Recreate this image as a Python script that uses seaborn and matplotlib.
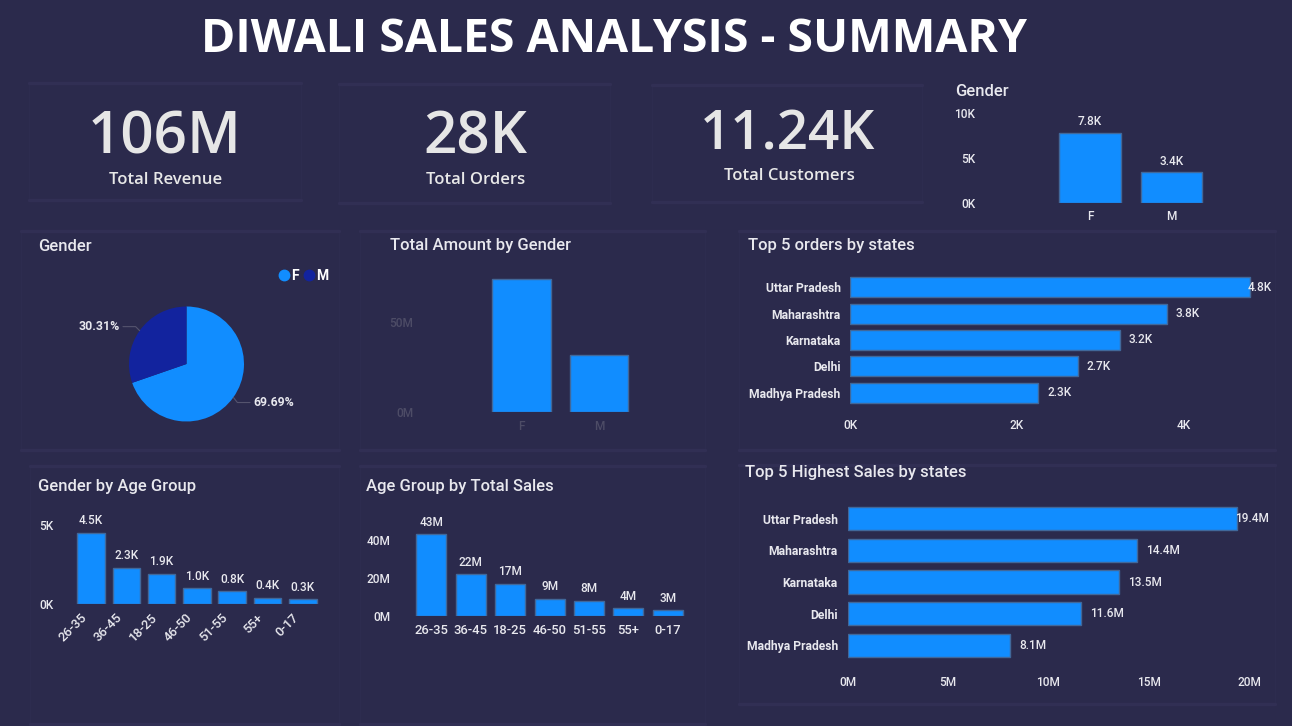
import matplotlib
matplotlib.use("Agg")
import matplotlib.pyplot as plt
from matplotlib.lines import Line2D
from matplotlib.patches import Rectangle
from matplotlib.transforms import ScaledTranslation
import numpy as np
import pandas as pd
import seaborn as sns

kpi_values = ["106M", "28K", "11.24K"]
kpi_labels = ["Total Revenue", "Total Orders", "Total Customers"]
genders = ["F", "M"]
gender_orders = [7.8, 3.4]
gender_share = [69.69, 30.31]
gender_amount = [74, 31.5]
age_groups = ["26-35", "36-45", "18-25", "46-50", "51-55", "55+", "0-17"]
age_orders = [4.5, 2.3, 1.9, 1.0, 0.8, 0.4, 0.3]
age_sales = [43, 22, 17, 9, 8, 4, 3]
states = ["Uttar Pradesh", "Maharashtra", "Karnataka", "Delhi", "Madhya Pradesh"]
state_orders = [4.8, 3.8, 3.24, 2.73, 2.26]
state_sales = [19.4, 14.4, 13.5, 11.6, 8.1]

W, H = 1292, 726
BG = "#2B2A4C"
PANEL = "#312F54"
BLUE = "#118DFF"
NAVY = "#12239E"
EDGE = "#41689A"
TXT = "#E8E8EE"
DIM = "#4D4C66"
FONT = "Roboto"
KFONT = "Open Sans"

sns.set_theme(style="white")
plt.rcParams["font.family"] = [FONT, "DejaVu Sans"]
fig = plt.figure(figsize=(W / 100, H / 100), dpi=100, facecolor=BG)


def fx(x):
    return x / W


def fy(y):
    return 1 - y / H


def ftext(x, y, s, size, color=TXT, ha="left", weight="medium", family=FONT, **kw):
    return fig.text(fx(x), fy(y), s, fontsize=size, color=color, ha=ha, va="center",
                    weight=weight, family=family, **kw)


def panel(l, t, r, b):
    fig.add_artist(Rectangle((fx(l), fy(b)), (r - l) / W, (b - t) / H, transform=fig.transFigure,
                             fc="none", ec="#2D2C4F", lw=1, zorder=0))
    for y in (t, b):
        fig.add_artist(Line2D([fx(l), fx(r)], [fy(y), fy(y)], color=PANEL, lw=2.4, zorder=0))


def axes_px(l, t, r, b):
    ax = fig.add_axes([fx(l), fy(b), (r - l) / W, (b - t) / H])
    ax.set_facecolor("none")
    sns.despine(ax=ax, left=True, bottom=True, top=True, right=True)
    ax.grid(False)
    ax.set_xlabel("")
    ax.set_ylabel("")
    return ax


def vbars(box, cats, vals, width, first, step, vmax, yticks, ylabels, size=8.6, tick_color=TXT,
          fmt=None, pad=5, ypad=3.5, xpad=5, xsize=None):
    l, t, r, b = box
    ax = axes_px(l, t, r, b)
    df = pd.DataFrame({"cat": cats, "val": vals})
    sns.barplot(data=df, x="cat", y="val", ax=ax, color=BLUE, saturation=1, width=width,
                edgecolor=EDGE, linewidth=1)
    ax.set_xlim((l - first) / step, (r - first) / step)
    ax.set_ylim(0, vmax)
    ax.set_yticks(yticks, ylabels)
    ax.set_xlabel("")
    ax.set_ylabel("")
    ax.tick_params(axis="both", length=0, labelcolor=tick_color, labelsize=size)
    ax.tick_params(axis="x", pad=xpad, labelsize=xsize or size)
    ax.tick_params(axis="y", pad=ypad)
    for lab in ax.get_xticklabels() + ax.get_yticklabels():
        lab.set_fontweight("medium")
    if fmt:
        ax.bar_label(ax.containers[0], labels=[fmt(v) for v in vals], padding=pad,
                     color=TXT, fontsize=size, fontweight="medium")
    return ax


def hbars(box, vals, width, vmax, xticks, xlabels, fmt, xpad, size=8.6):
    l, t, r, b = box
    ax = axes_px(l, t, r, b)
    df = pd.DataFrame({"state": states, "val": vals})
    sns.barplot(data=df, y="state", x="val", orient="h", ax=ax, color=BLUE, saturation=1,
                width=width, edgecolor=EDGE, linewidth=1)
    ax.set_xlim(0, vmax)
    ax.set_ylim(4.5, -0.5)
    ax.set_xticks(xticks, xlabels)
    ax.set_xlabel("")
    ax.set_ylabel("")
    ax.tick_params(axis="both", length=0, labelcolor=TXT, labelsize=size)
    ax.tick_params(axis="y", pad=7)
    ax.tick_params(axis="x", pad=xpad)
    for lab in ax.get_yticklabels():
        lab.set_fontweight("bold")
        lab.set_fontsize(8.7)
    for lab in ax.get_xticklabels():
        lab.set_fontweight("medium")
    texts = ax.bar_label(ax.containers[0], labels=[fmt(v) for v in vals], padding=6.5,
                         color=TXT, fontsize=size, fontweight="medium")
    texts[0].xyann = (-1.5, 0)
    return ax


# panels
for box in [(29, 83, 301, 200), (339, 84, 610, 203), (652, 85, 922, 202),
            (21, 231, 339, 450), (360, 231, 705, 450),
            (30, 466, 339, 724), (360, 466, 705, 724),
            (739, 231, 1275, 450), (739, 465, 1275, 704)]:
    panel(*box)

# title
ftext(614, 40, "DIWALI SALES ANALYSIS - SUMMARY", 33.4, color="white", ha="center",
      weight="bold", family=KFONT)

# KPI cards
kpi_x = [165, 475, 788]
kpi_y = [138, 138, 135]
lab_y = [180, 180, 176]
kpi_size = [42, 42, 39.5]
for x, vy, ly, v, lab, sz in zip(kpi_x, kpi_y, lab_y, kpi_values, kpi_labels, kpi_size):
    ftext(x, vy, v, sz, color="#E6E6E6", ha="center", weight="semibold", family=KFONT)
    ftext(x + 1, ly, lab, 12, color="#E8E8E8", ha="center", weight="semibold", family=KFONT)

# titles
ftext(955, 91.5, "Gender", 12)
ftext(38.5, 247, "Gender", 12)
ftext(390, 245.5, "Total Amount by Gender", 12)
ftext(38.5, 487, "Gender by Age Group", 12)
ftext(366, 487, "Age Group by Total Sales", 12)
ftext(748, 245.5, "Top 5 orders by states", 12)
ftext(745, 473, "Top 5 Highest Sales by states", 12)

# Gender orders (top right)
vbars((980, 113, 1215, 203), genders, gender_orders, 0.75, 1090, 81.5, 10,
      [0, 5, 10], ["0K", "5K", "10K"], fmt=lambda v: f"{v:.1f}K", pad=3.5)

# Pie
r_px = 57.5
cx, cy = 186.5, 364
ax = axes_px(cx - r_px, cy - r_px, cx + r_px, cy + r_px)
wedges, _ = ax.pie(gender_share, colors=[BLUE, NAVY], startangle=90, counterclock=False, radius=1,
                   wedgeprops={"linewidth": 0, "edgecolor": "none"})
ax.set_xlim(-1, 1)
ax.set_ylim(-1, 1)
lab_dx = [0.22, -0.22]
for w, pct, dx in zip(wedges, gender_share, lab_dx):
    a = np.deg2rad((w.theta1 + w.theta2) / 2)
    x0, y0 = np.cos(a), np.sin(a)
    x1 = x0 + np.sign(dx) * 0.07
    y1 = y0 - 0.09 if dx > 0 else y0 + 0.07
    x2 = x1 + dx
    ax.plot([x0, x1, x2], [y0, y1, y1], color="#55546E", lw=0.8, clip_on=False)
    ax.text(x2 + np.sign(dx) * 0.06, y1, f"{pct:.2f}%", color=TXT, fontsize=8.8, weight="bold",
            ha="left" if dx > 0 else "right", va="center", clip_on=False)
handles = [Line2D([], [], marker="o", ls="", color=BLUE, ms=7.5),
           Line2D([], [], marker="o", ls="", color=NAVY, ms=7.5)]
leg = fig.legend(handles, genders, loc="center", bbox_to_anchor=(fx(302), fy(275.5)), ncol=2,
                 frameon=False, handletextpad=-0.1, columnspacing=0.1, handlelength=1.2,
                 borderpad=0, prop={"size": 10, "weight": "bold", "family": FONT})
for t in leg.get_texts():
    t.set_color("white")

# Total amount by gender
vbars((418, 277, 640, 412), genders, gender_amount, 0.75, 521.5, 77.5, 75,
      [0, 50], ["0M", "50M"], tick_color=DIM, xpad=6)

# Gender by age group
ax = vbars((58, 525, 322, 604), age_groups, age_orders, 0.78, 91, 35.3, 5,
           [0, 5], ["0K", "5K"], fmt=lambda v: f"{v:.1f}K", pad=4, xsize=9.4)
shift = ScaledTranslation(-8 / 72, 0, fig.dpi_scale_trans)
for lab in ax.get_xticklabels():
    lab.set_rotation(45)
    lab.set_ha("right")
    lab.set_rotation_mode("anchor")
    lab.set_transform(lab.get_transform() + shift)

# Age group by total sales
vbars((395, 529, 688, 616), age_groups, age_sales, 0.76, 431.4, 39.4, 87 / 1.9,
      [0, 20, 40], ["0M", "20M", "40M"], fmt=lambda v: f"{v:.0f}M", pad=4, xpad=5.5, xsize=9.4)

# Top 5 orders
hbars((850.4, 274, 1266.4, 406), state_orders, 0.76, 5, [0, 2, 4], ["0K", "2K", "4K"],
      lambda v: f"{v:.1f}K", 9.5)

# Top 5 sales
hbars((847.6, 503, 1269.3, 661), state_sales, 0.74, 21, [0, 5, 10, 15, 20],
      ["0M", "5M", "10M", "15M", "20M"], lambda v: f"{v:.1f}M", 11)

fig.savefig("out.png", dpi=100, facecolor=BG)
